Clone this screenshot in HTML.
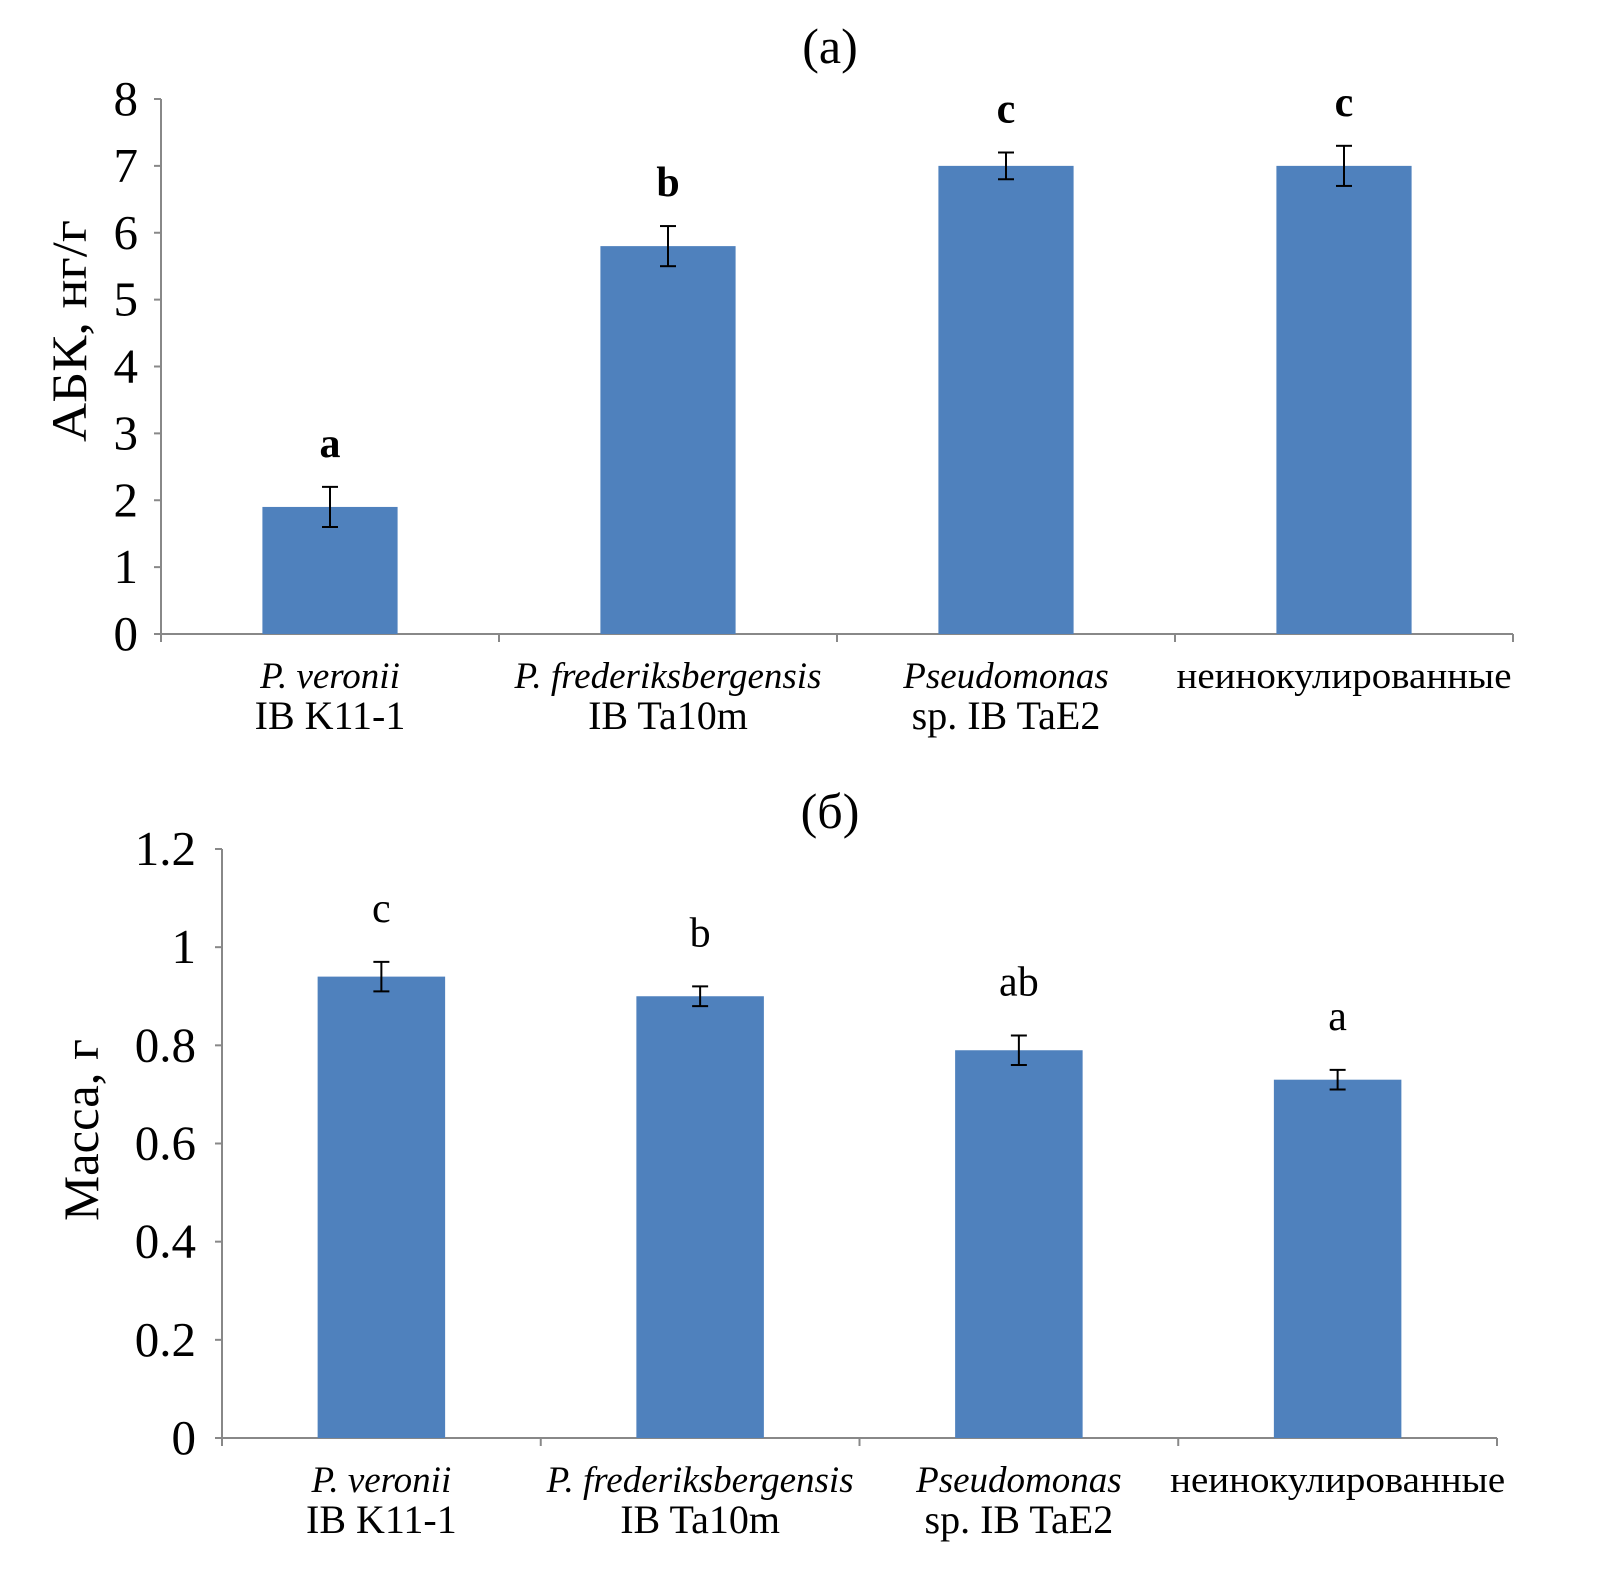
<!DOCTYPE html>
<html><head><meta charset="utf-8"><style>
html,body{margin:0;padding:0;background:#fff;}
svg{display:block;font-family:"Liberation Serif","Times New Roman",serif;}
</style></head><body>
<svg id="chart" width="1610" height="1578" viewBox="0 0 1610 1578" xmlns="http://www.w3.org/2000/svg" font-family="Liberation Serif, Times New Roman, serif"></svg>
<script>
const categoriesLine1 = ["P. veronii","P. frederiksbergensis","Pseudomonas","неинокулированные"];
const categoriesLine2 = ["IB K11-1","IB Ta10m","sp. IB TaE2",""];
const italicLine1 = [true,true,true,false];
const abaValues = [1.9,5.8,7.0,7.0];
const abaErrors = [0.3,0.3,0.2,0.3];
const abaLetters = ["a","b","c","c"];
const abaTicks = [0,1,2,3,4,5,6,7,8];
const abaTickLabels = ["0","1","2","3","4","5","6","7","8"];
const massValues = [0.94,0.90,0.79,0.73];
const massErrors = [0.03,0.02,0.03,0.02];
const massLetters = ["c","b","ab","a"];
const massTicks = [0,0.2,0.4,0.6,0.8,1.0,1.2];
const massTickLabels = ["0","0.2","0.4","0.6","0.8","1","1.2"];

const NS="http://www.w3.org/2000/svg";
const svg=document.getElementById('chart');
function mk(tag,attrs,parent){const e=document.createElementNS(NS,tag);for(const k in attrs)e.setAttribute(k,attrs[k]);(parent||svg).appendChild(e);return e;}

function drawPanel(o){
  const g=mk('g',{});
  
  
  const yScale=v=>o.y0-(v-o.ymin)/(o.ymax-o.ymin)*(o.y0-o.ytop);
  const n=categoriesLine1.length;
  const cw=(o.xr-o.xl)/n;
  const xC=i=>o.xl+cw*(i+0.5);
  const t=mk('text',{x:o.titleX,y:o.titleY,'font-size':50,'text-anchor':'middle'},g);
  t.textContent=o.title;
  
  
  const ax=mk('line',{x1:o.xl,y1:o.ytop,x2:o.xl,y2:o.y0,stroke:'#888','stroke-width':2},g);
  
  
  const bx=mk('line',{x1:o.xl,y1:o.y0,x2:o.xr,y2:o.y0,stroke:'#888','stroke-width':2},g);
  
  
  o.ticks.forEach((v,i)=>{
    const y=yScale(v);
    mk('line',{x1:o.xl-7,y1:y,x2:o.xl,y2:y,stroke:'#888','stroke-width':2},g);
    const tl=mk('text',{x:o.labelX,y:y+16,'font-size':49,'text-anchor':'end'},g);
    tl.textContent=o.tickLabels[i];
    
    
  });
  for(let i=0;i<=n;i++){const x=o.xl+cw*i;mk('line',{x1:x,y1:o.y0,x2:x,y2:o.y0+8,stroke:'#888','stroke-width':2},g);}
  const yt=mk('text',{x:o.ytX,y:o.ytY,'font-size':50,'text-anchor':'middle',textLength:o.ytLen,lengthAdjust:'spacingAndGlyphs',transform:`rotate(-90 ${o.ytX} ${o.ytY})`},g);
  yt.textContent=o.ytitle;
  
  
  o.values.forEach((v,i)=>{
    const bw=cw*0.4, x=xC(i)-bw/2, y=yScale(v);
    const r=mk('rect',{x:x,y:y,width:bw,height:o.y0-y,fill:'#4f81bd'},g);
    
    
    const et=yScale(v+o.errors[i]), eb=yScale(v-o.errors[i]);
    const eg=mk('g',{stroke:'#000','stroke-width':2},g);
    
    
    mk('line',{x1:xC(i),y1:et,x2:xC(i),y2:eb},eg);
    mk('line',{x1:xC(i)-8,y1:et,x2:xC(i)+8,y2:et},eg);
    mk('line',{x1:xC(i)-8,y1:eb,x2:xC(i)+8,y2:eb},eg);
    const lt=mk('text',{x:xC(i),y:et-o.letterGap,'font-size':42,'text-anchor':'middle','font-weight':o.bold?'bold':'normal'},g);
    lt.textContent=o.letters[i];
    
    
    const a1={x:xC(i),y:o.y0+54,'font-size':37,'text-anchor':'middle','font-style':italicLine1[i]?'italic':'normal'};
    if(!italicLine1[i]){a1.textLength=335;a1.lengthAdjust='spacingAndGlyphs';}
    const c1=mk('text',a1,g);
    c1.textContent=categoriesLine1[i];
    
    
    if(categoriesLine2[i]){
      const c2=mk('text',{x:xC(i),y:o.y0+95,'font-size':40,'text-anchor':'middle'},g);
      c2.textContent=categoriesLine2[i];
      
      
    }
  });
}
drawPanel({name:'panel-a',title:'(a)',titleX:830,titleY:63,xl:161,xr:1513,ytop:99,y0:634,ymin:0,ymax:8,
  ticks:abaTicks,tickLabels:abaTickLabels,labelX:138,ytitle:'АБК, нг/г',ytLen:222,ytX:86,ytY:331,
  values:abaValues,errors:abaErrors,letters:abaLetters,letterGap:30,bold:true});
drawPanel({name:'panel-b',title:'(б)',titleX:830,titleY:828,xl:222,xr:1497,ytop:849,y0:1438,ymin:0,ymax:1.2,
  ticks:massTicks,tickLabels:massTickLabels,labelX:196,ytitle:'Масса, г',ytLen:182,ytX:98,ytY:1130,
  values:massValues,errors:massErrors,letters:massLetters,letterGap:40,bold:false});
</script>
</body></html>
